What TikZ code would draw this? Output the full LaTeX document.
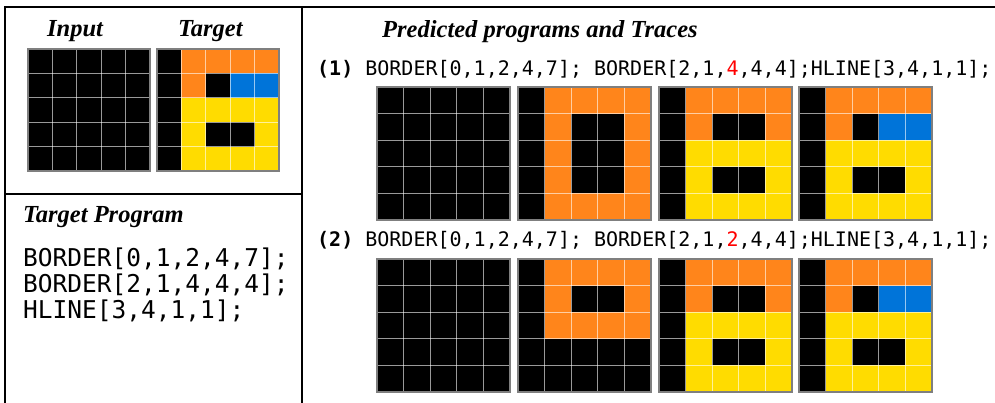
\documentclass[tikz,border=0pt]{standalone}
\usepackage{fontspec}
\setmainfont{Liberation Serif}
\setmonofont{DejaVu Sans Mono}

% ARC palette
\definecolor{col0}{HTML}{000000}
\definecolor{col1}{HTML}{FF851B}
\definecolor{col2}{HTML}{0074D9}
\definecolor{col3}{HTML}{FFDC00}
\definecolor{gridedge}{HTML}{7F7F7F}
\definecolor{hlred}{HTML}{FF0000}

\tikzset{
  frameline/.style={line width=1.8pt, black, line join=miter},
  cellline/.style={line width=0.9pt, white, opacity=0.6},
  gridframe/.style={line width=1.3pt, gridedge},
  heading/.style={inner sep=0pt, anchor=base west, font=\fontsize{24.5}{28}\selectfont\bfseries\itshape},
  progtext/.style={inner sep=0pt, anchor=base west, font=\fontsize{24.5}{26}\selectfont\ttfamily},
  tracetext/.style={inner sep=0pt, anchor=base west, font=\fontsize{20}{24}\selectfont\ttfamily},
}

% 5x5 grid: #1,#2 top-left corner, #3 cell size, #4 macro holding the rows
\newcommand\arcgrid[4]{%
  \foreach \rowcells [count=\ri from 0] in #4 {
    \foreach \cc [count=\ci from 0] in \rowcells {
      \fill[col\cc] ({#1+\ci*#3},{#2+\ri*#3}) rectangle ++(#3,#3);
    }
  }
  \foreach \i in {1,...,4} {
    \draw[cellline] ({#1+\i*#3},#2) -- ++(0,{5*#3});
    \draw[cellline] (#1,{#2+\i*#3}) -- ++({5*#3},0);
  }
  \draw[gridframe] (#1,#2) rectangle ++({5*#3},{5*#3});
}

% grid states (0 black, 1 orange, 2 blue, 3 yellow)
\def\gBlank{{0,0,0,0,0},{0,0,0,0,0},{0,0,0,0,0},{0,0,0,0,0},{0,0,0,0,0}}
\def\gTarget{{0,1,1,1,1},{0,1,0,2,2},{0,3,3,3,3},{0,3,0,0,3},{0,3,3,3,3}}
\def\gBigBorder{{0,1,1,1,1},{0,1,0,0,1},{0,1,0,0,1},{0,1,0,0,1},{0,1,1,1,1}}
\def\gSmallBorder{{0,1,1,1,1},{0,1,0,0,1},{0,1,1,1,1},{0,0,0,0,0},{0,0,0,0,0}}
\def\gTwoBorders{{0,1,1,1,1},{0,1,0,0,1},{0,3,3,3,3},{0,3,0,0,3},{0,3,3,3,3}}

\begin{document}
\begin{tikzpicture}[x=1pt,y=-1pt]
\useasboundingbox (0,0) rectangle (995,403);

% panel frames
\draw[frameline] (5,406) -- (5,7) -- (998,7);
\draw[frameline] (302,7) -- (302,406);
\draw[frameline] (5,194) -- (302,194);

% input / target
\node[heading] (inputlbl) at (47,37) {Input};
\node[heading] (targetlbl) at (178,37) {Target};
\arcgrid{28}{49}{24.4}{\gBlank}
\arcgrid{157}{49}{24.4}{\gTarget}

% target program
\node[heading] (proglbl) at (23,223) {Target Program};
\node[progtext] (prog1) at (23,266) {BORDER[0,1,2,4,7];};
\node[progtext] (prog2) at (23,292) {BORDER[2,1,4,4,4];};
\node[progtext] (prog3) at (23,318) {HLINE[3,4,1,1];};

% predicted programs and their traces
\node[heading] (predlbl) at (382,38) {Predicted programs and Traces};

\node[tracetext] (trace1) at (317,76)
  {\textbf{(1)} BORDER[0,1,2,4,7]; BORDER[2,1,\textcolor{hlred}{4},4,4];HLINE[3,4,1,1];};
\arcgrid{377}{87}{26.6}{\gBlank}
\arcgrid{518}{87}{26.6}{\gBigBorder}
\arcgrid{659}{87}{26.6}{\gTwoBorders}
\arcgrid{799}{87}{26.6}{\gTarget}

\node[tracetext] (trace2) at (317,247)
  {\textbf{(2)} BORDER[0,1,2,4,7]; BORDER[2,1,\textcolor{hlred}{2},4,4];HLINE[3,4,1,1];};
\arcgrid{377}{259}{26.6}{\gBlank}
\arcgrid{518}{259}{26.6}{\gSmallBorder}
\arcgrid{659}{259}{26.6}{\gTwoBorders}
\arcgrid{799}{259}{26.6}{\gTarget}
\end{tikzpicture}
\end{document}
